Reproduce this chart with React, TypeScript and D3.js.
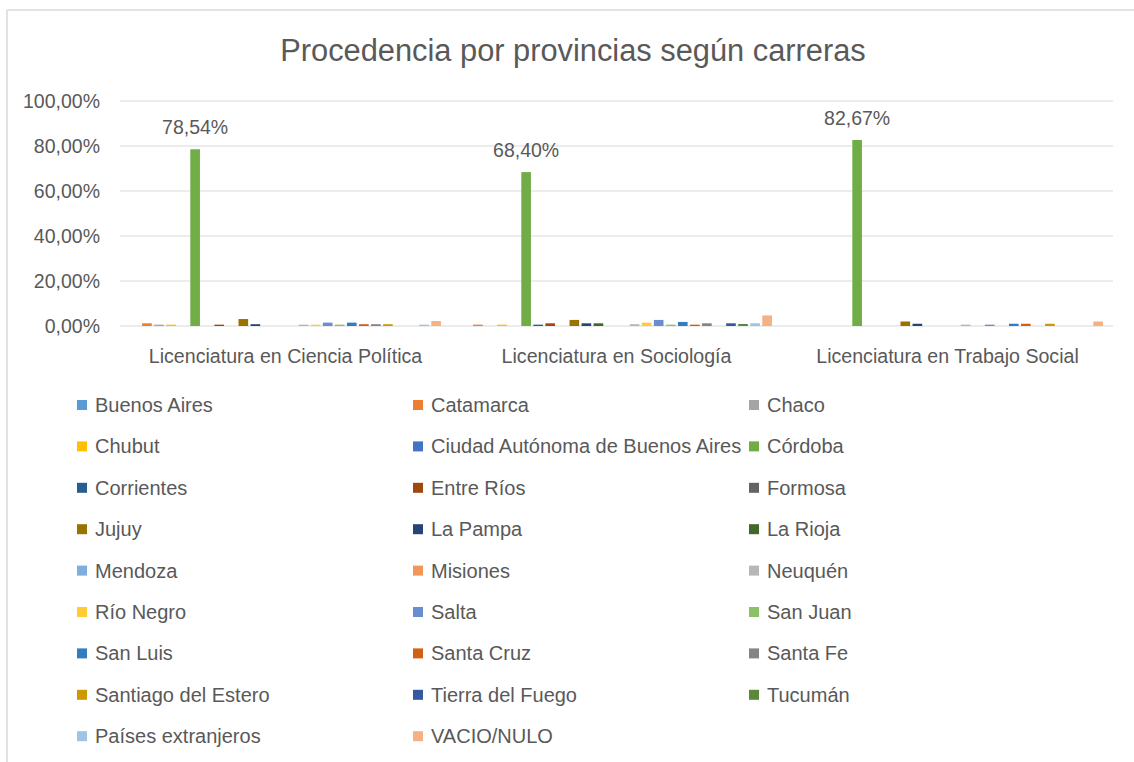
import React from "react";
import * as d3 from "d3";

const categories = [
  "Licenciatura en Ciencia Política",
  "Licenciatura en Sociología",
  "Licenciatura en Trabajo Social",
];

const provinces = [
  "Buenos Aires", "Catamarca", "Chaco", "Chubut", "Ciudad Autónoma de Buenos Aires", "Córdoba",
  "Corrientes", "Entre Ríos", "Formosa", "Jujuy", "La Pampa", "La Rioja",
  "Mendoza", "Misiones", "Neuquén", "Río Negro", "Salta", "San Juan",
  "San Luis", "Santa Cruz", "Santa Fe", "Santiago del Estero", "Tierra del Fuego", "Tucumán",
  "Países extranjeros", "VACIO/NULO",
];

const colors = [
  "#5B9BD5", "#ED7D31", "#A5A5A5", "#FFC000", "#4472C4", "#70AD47",
  "#255E91", "#9E480E", "#636363", "#997300", "#264478", "#43682B",
  "#7CAFDD", "#F1975A", "#B7B7B7", "#FFCD33", "#698ED0", "#8CC168",
  "#327DC2", "#D26012", "#848484", "#CC9A00", "#335AA1", "#5A8A39",
  "#9DC3E6", "#F4B183",
];

// values in %, one array per career, in province order
const cienciaPolitica = [0, 1.2, 0.6, 0.6, 0, 78.54, 0, 0.6, 0, 3.1, 0.8, 0, 0, 0, 0.6, 0.6, 1.5, 0.6, 1.5, 0.8, 0.8, 0.8, 0, 0, 0.6, 2.2];
const sociologia = [0, 0.6, 0, 0.6, 0, 68.4, 0.6, 1.2, 0, 2.7, 1.2, 1.2, 0, 0, 0.8, 1.5, 2.7, 0.6, 1.8, 0.6, 1.2, 0, 1.2, 0.9, 1.2, 4.7];
const trabajoSocial = [0, 0, 0, 0, 0, 82.67, 0, 0, 0, 2.0, 1.0, 0, 0, 0, 0.6, 0, 0.6, 0, 1.0, 1.0, 0, 1.0, 0, 0, 0, 2.0];

const seriesByCategory = [cienciaPolitica, sociologia, trabajoSocial];
const yTicks = [0, 20, 40, 60, 80, 100];
const labelledIndex = 5; // Córdoba

const W = 1134;
const H = 762;
const TEXT = "#595959";
const FONT = "'Liberation Sans', Arial, sans-serif";

const fmt = (v: number) => v.toFixed(2).replace(".", ",") + "%";

export default function App() {
  const left = 120, right = 1113, top = 101, bottom = 326;
  const x0 = d3.scaleBand<string>().domain(categories).range([left, right]);
  const x1 = d3
    .scaleBand<string>()
    .domain(provinces)
    .range([0, x0.bandwidth()])
    .paddingInner(0.2)
    .paddingOuter(0.835);
  const y = d3.scaleLinear().domain([0, 100]).range([bottom, top]);

  const legendX = d3.scaleLinear().domain([0, 1]).range([77, 413]);
  const legendY = d3.scaleLinear().domain([0, 1]).range([405, 446.4]);

  return (
    <div style={{ position: "absolute", left: 0, top: 0 }}>
      <svg width={W} height={H} style={{ display: "block", fontFamily: FONT }}>
        <rect x={0} y={0} width={W} height={H} fill="#fff" />
        <line x1={7} y1={10} x2={W} y2={10} stroke="#d9d9d9" strokeWidth={1.5} />
        <line x1={7} y1={10} x2={7} y2={H} stroke="#d9d9d9" strokeWidth={1.5} />

        <text x={573} y={61} textAnchor="middle" fontSize={30.8} fill={TEXT}>
          Procedencia por provincias según carreras
        </text>

        {yTicks.map((t) => (
          <g key={t}>
            <line x1={left} x2={right} y1={y(t)} y2={y(t)} stroke="#d9d9d9" strokeWidth={1} />
            <text x={100} y={y(t) + 7} textAnchor="end" fontSize={19.5} fill={TEXT}>
              {fmt(t)}
            </text>
          </g>
        ))}

        {categories.map((c, ci) => (
          <g key={c} transform={`translate(${x0(c)},0)`}>
            {provinces.map((p, pi) => {
              const v = seriesByCategory[ci][pi];
              if (v <= 0) return null;
              return (
                <rect
                  key={p}
                  x={x1(p)}
                  y={y(v)}
                  width={x1.bandwidth()}
                  height={y(0) - y(v)}
                  fill={colors[pi]}
                />
              );
            })}
            <text
              x={(x1(provinces[labelledIndex]) as number) + x1.bandwidth() / 2}
              y={y(seriesByCategory[ci][labelledIndex]) - 15}
              textAnchor="middle"
              fontSize={19.5}
              fill={TEXT}
            >
              {fmt(seriesByCategory[ci][labelledIndex])}
            </text>
            <text x={x0.bandwidth() / 2} y={363} textAnchor="middle" fontSize={19.6} fill={TEXT}>
              {c}
            </text>
          </g>
        ))}

        {provinces.map((p, i) => {
          const col = i % 3;
          const row = Math.floor(i / 3);
          const lx = legendX(col);
          const ly = legendY(row);
          return (
            <g key={p}>
              <rect x={lx} y={ly - 5} width={10} height={10} fill={colors[i]} />
              <text x={lx + 18} y={ly + 7} fontSize={20} fill={TEXT}>
                {p}
              </text>
            </g>
          );
        })}
      </svg>
    </div>
  );
}
